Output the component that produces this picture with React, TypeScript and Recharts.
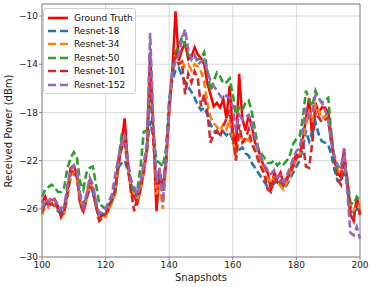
import { LineChart, Line, XAxis, YAxis, CartesianGrid, Legend, ReferenceLine } from "recharts";

const firstSnapshot = 100;

const groundTruth = [
  -25.5, -25.0, -25.8, -25.3, -25.2, -25.8, -26.7, -26.2, -24.5, -22.6,
  -22.4, -23.2, -25.5, -26.2, -25.0, -23.6, -24.6, -25.8, -26.8, -26.5,
  -26.6, -26.0, -25.4, -24.6, -22.6, -20.5, -18.5, -22.2, -24.6, -25.0,
  -25.5, -24.4, -23.0, -21.0, -13.0, -19.5, -26.2, -23.0, -24.5, -22.0,
  -18.0, -14.5, -9.6, -13.7, -12.8, -12.3, -13.6, -13.4, -12.6, -13.2,
  -13.5, -14.0, -15.6, -16.5, -17.5, -17.2, -17.6, -16.9, -18.5, -15.8,
  -19.5, -21.0, -14.8, -18.5, -19.5, -18.2, -19.2, -20.5, -21.0, -22.0,
  -22.5, -23.0, -24.5, -23.0, -23.5, -23.0, -24.0, -23.4, -23.0, -22.0,
  -21.5, -21.6, -20.2, -18.5, -16.8, -20.2, -17.2, -18.0, -17.6, -17.6,
  -18.0, -20.0, -22.0, -23.0, -23.4, -21.0, -24.2, -26.5, -27.0, -25.0,
  -26.5,
];

const resnet18 = [
  -26.0, -25.6, -25.8, -25.6, -25.8, -26.2, -26.3, -25.8, -24.6, -23.5,
  -23.0, -23.4, -24.8, -25.6, -25.0, -24.4, -24.6, -25.8, -26.5, -26.4,
  -26.0, -25.8, -25.2, -24.2, -22.6, -22.2, -22.0, -22.8, -24.0, -24.6,
  -25.0, -24.0, -22.6, -21.0, -18.7, -20.0, -24.0, -23.2, -24.0, -22.0,
  -17.0, -15.3, -14.5, -14.3, -15.0, -15.4, -15.9, -16.3, -16.8, -17.4,
  -17.8, -17.6, -18.2, -19.0, -19.5, -19.7, -19.8, -19.6, -19.9, -19.6,
  -20.3, -21.2, -21.1, -20.9, -21.4, -21.6, -22.2, -22.6, -23.0, -23.4,
  -23.8, -24.2, -24.1, -23.9, -23.6, -23.9, -24.3, -24.0, -23.5, -23.0,
  -22.5, -22.0, -21.0, -19.5, -20.4, -19.6, -18.8, -19.8, -20.4, -20.5,
  -20.7, -21.5, -22.8, -23.7, -23.6, -23.0, -24.0, -25.8, -26.3, -26.0,
  -26.2,
];

const resnet34 = [
  -26.5, -25.8, -25.8, -25.4, -25.6, -26.0, -26.5, -26.4, -25.0, -23.2,
  -23.0, -23.6, -25.2, -26.0, -25.3, -24.0, -24.2, -25.5, -27.0, -26.8,
  -26.6, -26.0, -25.5, -24.8, -22.4, -21.0, -20.2, -22.4, -24.2, -24.8,
  -25.2, -24.2, -22.8, -21.2, -15.0, -20.0, -24.8, -24.0, -26.0, -22.5,
  -18.0, -14.8, -13.3, -13.6, -13.8, -14.2, -14.0, -14.5, -14.0, -14.2,
  -14.6, -15.5, -17.2, -18.4, -18.9, -19.2, -19.5, -19.0, -19.4, -18.6,
  -20.3, -21.8, -19.8, -20.2, -20.6, -20.2, -20.6, -21.0, -21.8, -22.4,
  -23.0, -23.5, -23.8, -23.4, -23.8, -24.1, -24.4, -23.8, -23.2, -22.6,
  -21.8, -21.5, -20.5, -19.0, -18.0, -18.8, -17.4, -17.8, -18.5, -18.3,
  -18.6, -20.5, -21.8, -22.8, -23.0, -21.8, -24.0, -26.0, -26.2, -25.5,
  -26.0,
];

const resnet50 = [
  -25.0, -24.4, -24.2, -24.0, -24.2, -24.6, -24.6, -24.2, -22.6, -21.8,
  -21.3, -21.8, -23.8, -24.4, -23.0, -22.6, -22.5, -24.0, -25.6, -25.8,
  -26.0, -25.6, -25.4, -24.6, -22.0, -20.0, -20.5, -22.0, -24.2, -24.5,
  -24.4, -22.5, -19.6, -19.5, -16.0, -19.8, -22.0, -22.2, -22.5, -21.0,
  -17.2, -14.5, -13.0, -12.4, -11.8, -12.4, -13.2, -13.5, -13.4, -13.6,
  -13.5, -13.0, -14.5, -16.2, -15.4, -14.7, -15.0, -15.6, -15.5, -15.2,
  -16.5, -18.2, -17.6, -17.8, -17.2, -17.0, -18.0, -19.5, -21.0, -21.4,
  -21.8, -22.2, -22.2, -22.0, -22.4, -22.1, -22.3, -22.0, -21.5, -20.6,
  -20.2, -20.0, -18.5, -16.2, -17.0, -17.5, -16.2, -16.8, -17.2, -17.0,
  -16.8, -19.8, -22.0, -22.6, -22.4, -22.0, -23.5, -25.5, -25.6, -25.0,
  -25.3,
];

const resnet101 = [
  -26.3, -25.5, -25.6, -25.6, -25.4, -26.0, -26.6, -26.2, -24.8, -23.0,
  -22.8, -23.4, -25.6, -26.3, -25.2, -24.2, -24.4, -25.8, -27.0, -26.8,
  -26.4, -25.8, -25.2, -24.4, -22.2, -21.0, -20.4, -22.6, -24.5, -26.2,
  -25.0, -24.0, -22.6, -21.2, -14.8, -20.2, -24.0, -22.8, -24.5, -22.4,
  -17.5, -14.6, -13.0, -14.0, -13.8, -16.5, -14.8, -15.5, -14.6, -15.2,
  -17.5, -16.5, -18.0, -20.5, -19.8, -19.5, -20.0, -19.2, -18.5, -17.8,
  -20.0, -22.0, -19.0, -20.5, -20.2, -19.4, -20.6, -21.2, -22.0, -22.6,
  -23.2, -24.4, -24.6, -23.4, -23.8, -23.5, -24.0, -23.6, -23.0, -22.5,
  -21.8, -21.6, -20.4, -22.5, -22.6, -20.5, -18.0, -18.4, -18.8, -18.6,
  -18.5, -20.6, -22.0, -23.6, -24.0, -21.5, -23.6, -26.2, -26.7, -25.5,
  -26.5,
];

const resnet152 = [
  -26.0, -25.2, -25.4, -25.0, -25.3, -25.6, -26.0, -25.8, -24.0, -22.8,
  -22.4, -22.8, -25.0, -25.8, -24.8, -23.4, -24.0, -25.4, -26.4, -26.2,
  -26.0, -25.4, -24.8, -23.2, -21.8, -20.5, -19.8, -22.0, -23.6, -24.2,
  -24.8, -23.8, -22.2, -20.5, -11.4, -18.5, -23.8, -22.6, -25.5, -21.8,
  -17.5, -14.6, -13.8, -13.2, -12.0, -11.1, -12.8, -13.6, -13.2, -14.0,
  -13.8, -13.6, -14.6, -15.4, -15.8, -16.2, -16.6, -16.9, -16.6, -16.8,
  -17.5, -19.5, -18.2, -18.6, -18.4, -18.2, -19.0, -20.0, -21.2, -21.8,
  -22.4, -22.8, -23.1, -22.8, -23.4, -23.2, -23.8, -23.2, -22.6, -21.8,
  -21.2, -21.0, -19.6, -17.6, -18.4, -18.0, -16.6, -16.8, -17.2, -17.8,
  -18.6, -20.6, -21.6, -22.4, -22.6, -21.0, -24.6, -28.0, -28.2, -27.5,
  -28.5,
];

const xTicks = [100, 120, 140, 160, 180, 200];
const yTicks = [-10, -14, -18, -22, -26, -30];

const series = [
  { key: "gt", name: "Ground Truth", color: "#ff0000", dashed: false, values: groundTruth },
  { key: "r18", name: "Resnet-18", color: "#1f77b4", dashed: true, values: resnet18 },
  { key: "r34", name: "Resnet-34", color: "#ff7f0e", dashed: true, values: resnet34 },
  { key: "r50", name: "Resnet-50", color: "#2ca02c", dashed: true, values: resnet50 },
  { key: "r101", name: "Resnet-101", color: "#d62728", dashed: true, values: resnet101 },
  { key: "r152", name: "Resnet-152", color: "#9467bd", dashed: true, values: resnet152 },
];

const data = groundTruth.map((_, i) => {
  const row: Record<string, number> = { snapshot: firstSnapshot + i };
  series.forEach((s) => (row[s.key] = s.values[i]));
  return row;
});

const font = "DejaVu Sans, sans-serif";
const DASH = "7.5 3.5";
const fmt = (v: number) => String(v).replace("-", "\u2212");

function LegendBox() {
  return (
    <div
      style={{
        background: "rgba(255,255,255,0.9)",
        border: "1px solid #d0d0d0",
        borderRadius: 3,
        padding: "2px 4px 2px 3px",
        fontFamily: font,
        fontSize: 9,
        color: "#111",
        whiteSpace: "nowrap",
        width: 84,
      }}
    >
      {series.map((s) => (
        <div key={s.key} style={{ display: "flex", alignItems: "center", height: 13.4 }}>
          <svg width={22} height={6} style={{ marginRight: 5, flexShrink: 0 }}>
            <line x1={1} y1={3} x2={21} y2={3} stroke={s.color} strokeWidth={2.6} strokeDasharray={s.dashed ? "8 4" : undefined} />
          </svg>
          <span>{s.name}</span>
        </div>
      ))}
    </div>
  );
}

export default function App() {
  return (
    <div style={{ position: "absolute", left: 0, top: 0, width: 374, height: 287, background: "#fff" }}>
      <LineChart width={374} height={287} data={data} margin={{ top: 4, right: 14, left: 0, bottom: 0 }}>
        <CartesianGrid stroke="#cfcfcf" strokeWidth={0.8} />
        <XAxis
          dataKey="snapshot"
          type="number"
          domain={[100, 200]}
          ticks={xTicks}
          height={30}
          tickSize={3}
          tickMargin={2}
          stroke="#888"
          tick={{ fill: "#222", fontSize: 9, fontFamily: font }}
          label={{
            content: () => (
              <text x={201} y={281} textAnchor="middle" fontSize={10} fontFamily={font} fill="#222">
                Snapshots
              </text>
            ),
          }}
        />
        <YAxis
          type="number"
          domain={[-30, -9]}
          ticks={yTicks}
          width={42}
          tickSize={3}
          tickMargin={1}
          stroke="#888"
          tickFormatter={fmt}
          tick={{ fill: "#222", fontSize: 9, fontFamily: font }}
          label={{
            content: () => (
              <text
                x={9}
                y={131}
                transform="rotate(-90 9 131)"
                textAnchor="middle"
                dominantBaseline="middle"
                fontSize={10}
                fontFamily={font}
                fill="#222"
              >
                Received Power (dBm)
              </text>
            ),
          }}
        />
        <ReferenceLine y={-9} stroke="#888" />
        <ReferenceLine x={200} stroke="#888" />
        {series.map((s) => (
          <Line
            key={s.key}
            dataKey={s.key}
            name={s.name}
            stroke={s.color}
            strokeWidth={s.dashed ? 2.6 : 2.5}
            strokeDasharray={s.dashed ? DASH : undefined}
            dot={false}
            isAnimationActive={false}
          />
        ))}
        <Legend
          layout="horizontal"
          verticalAlign="middle"
          align="center"
          content={() => <LegendBox />}
          wrapperStyle={{ left: 43, top: 8, width: 93, height: 84 }}
        />
      </LineChart>
    </div>
  );
}
